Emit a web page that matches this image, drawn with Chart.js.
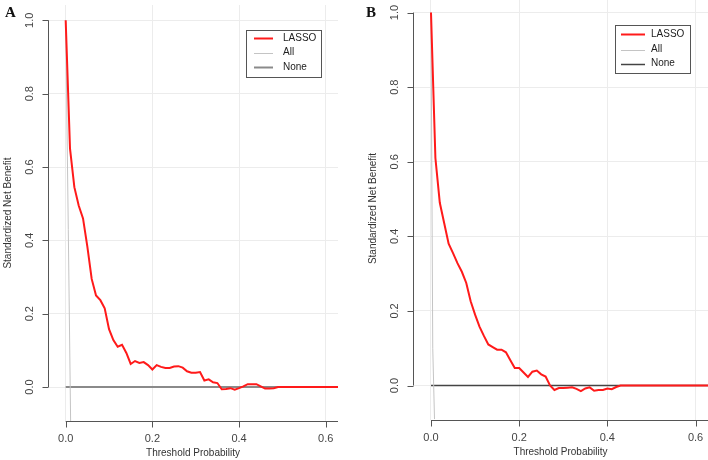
<!DOCTYPE html>
<html>
<head>
<meta charset="utf-8">
<script src="https://cdn.jsdelivr.net/npm/chart.js@4.4.1/dist/chart.umd.min.js"></script>
<style>
    html, body { margin: 0; padding: 0; background: #fff; }
    #wrap { position: relative; width: 708px; height: 460px; overflow: hidden; }
    canvas { position: absolute; }
    #chartA { left: 0; top: 0; }
    #chartB { left: 354px; top: -3px; }
</style>
</head>
<body>
<div id="wrap">
    <canvas id="chartA" width="354" height="460"></canvas>
    <canvas id="chartB" width="354" height="463"></canvas>
</div>
<script>
// threshold probabilities (0.00 .. 0.63)
const thresholds = [0.00, 0.01, 0.02, 0.03, 0.04, 0.05, 0.06, 0.07, 0.08, 0.09,
    0.10, 0.11, 0.12, 0.13, 0.14, 0.15, 0.16, 0.17, 0.18, 0.19,
    0.20, 0.21, 0.22, 0.23, 0.24, 0.25, 0.26, 0.27, 0.28, 0.29,
    0.30, 0.31, 0.32, 0.33, 0.34, 0.35, 0.36, 0.37, 0.38, 0.39,
    0.40, 0.41, 0.42, 0.43, 0.44, 0.45, 0.46, 0.47, 0.48, 0.49,
    0.50, 0.51, 0.52, 0.53, 0.54, 0.55, 0.56, 0.57, 0.58, 0.59,
    0.60, 0.61, 0.62, 0.63];

const lassoA = [1.000, 0.650, 0.545, 0.495, 0.460, 0.383, 0.295, 0.250, 0.237, 0.215,
    0.158, 0.128, 0.110, 0.115, 0.093, 0.063, 0.071, 0.066, 0.068, 0.060,
    0.048, 0.060, 0.055, 0.052, 0.052, 0.056, 0.057, 0.053, 0.043, 0.039,
    0.039, 0.041, 0.018, 0.021, 0.013, 0.011, -0.006, -0.005, -0.003, -0.007,
    -0.003, 0.002, 0.008, 0.008, 0.008, 0.002, -0.004, -0.004, -0.003, 0.000,
    0, 0, 0, 0, 0, 0, 0, 0, 0, 0,
    0, 0, 0, 0];

const lassoB = [1.000, 0.610, 0.490, 0.435, 0.380, 0.355, 0.328, 0.305, 0.275, 0.226,
    0.190, 0.158, 0.133, 0.110, 0.103, 0.096, 0.096, 0.089, 0.068, 0.047,
    0.047, 0.035, 0.023, 0.037, 0.040, 0.030, 0.024, 0.000, -0.012, -0.007,
    -0.007, -0.006, -0.005, -0.009, -0.015, -0.008, -0.005, -0.014, -0.012, -0.012,
    -0.008, -0.010, -0.004, 0.000, 0, 0, 0, 0, 0, 0,
    0, 0, 0, 0, 0, 0, 0, 0, 0, 0,
    0, 0, 0, 0];

// "treat all" curves, they drop out of the plot almost at once
const allThreshA = [0, 0.006, 0.012];
const allA = [1.0, 0.43, -0.15];
const allThreshB = [0, 0.004, 0.008];
const allB = [1.0, 0.10, -0.09];

// "treat none"
const noneThresh = [0, 0.63];
const noneVals = [0, 0];

const xTicks = [0, 0.2, 0.4, 0.6];
const yTicks = [0, 0.2, 0.4, 0.6, 0.8, 1.0];
const xLabels = ['0.0', '0.2', '0.4', '0.6'];
const yLabels = ['0.0', '0.2', '0.4', '0.6', '0.8', '1.0'];

const FONT = '"Liberation Sans", Arial, sans-serif';

const toPoints = (xs, ys) => xs.map((x, i) => ({ x, y: ys[i] }));

// R-style axes, titles, panel letter and legend
const rDecor = {
    id: 'rDecor',
    afterDraw(chart) {
        const { ctx, chartArea: area, scales: { x, y } } = chart;
        const p = chart.options.plugins.rDecor;

        ctx.save();
        ctx.strokeStyle = '#555';
        ctx.lineWidth = 1;

        // y axis
        const yx = Math.round(area.left) + 0.5;
        ctx.beginPath();
        ctx.moveTo(yx, y.getPixelForValue(yTicks[0]));
        ctx.lineTo(yx, y.getPixelForValue(yTicks[yTicks.length - 1]));
        yTicks.forEach(v => {
            const py = Math.round(y.getPixelForValue(v)) + 0.5;
            ctx.moveTo(yx, py);
            ctx.lineTo(yx - 6, py);
        });
        ctx.stroke();

        // x axis
        const xy = Math.round(area.bottom) + 0.5;
        ctx.beginPath();
        ctx.moveTo(x.getPixelForValue(xTicks[0]), xy);
        ctx.lineTo(area.right, xy);
        xTicks.forEach(v => {
            const px = Math.round(x.getPixelForValue(v)) + 0.5;
            ctx.moveTo(px, xy);
            ctx.lineTo(px, xy + 6);
        });
        ctx.stroke();

        ctx.fillStyle = '#444';
        ctx.font = `11px ${FONT}`;
        ctx.textAlign = 'center';
        ctx.textBaseline = 'middle';

        xTicks.forEach((v, i) => {
            ctx.fillText(xLabels[i], x.getPixelForValue(v), area.bottom + 18);
        });
        yTicks.forEach((v, i) => {
            ctx.save();
            ctx.translate(area.left - 18, y.getPixelForValue(v));
            ctx.rotate(-Math.PI / 2);
            ctx.fillText(yLabels[i], 0, 0);
            ctx.restore();
        });

        // titles
        ctx.fillStyle = '#333';
        ctx.font = `10px ${FONT}`;
        ctx.fillText('Threshold Probability', (area.left + area.right) / 2, area.bottom + 32);
        ctx.save();
        ctx.translate(area.left - 40, (area.top + area.bottom) / 2);
        ctx.rotate(-Math.PI / 2);
        ctx.fillText('Standardized Net Benefit', 0, 0);
        ctx.restore();

        // panel letter
        ctx.fillStyle = '#111';
        ctx.font = `bold 15px "Liberation Serif", "Times New Roman", serif`;
        ctx.textAlign = 'left';
        ctx.textBaseline = 'alphabetic';
        ctx.fillText(p.letter, p.letterX, p.letterY);

        // legend
        const lg = p.legend;
        ctx.fillStyle = '#fff';
        ctx.fillRect(lg.x, lg.y, lg.w, lg.h);
        ctx.strokeStyle = '#555';
        ctx.lineWidth = 1;
        ctx.strokeRect(Math.round(lg.x) + 0.5, Math.round(lg.y) + 0.5, Math.round(lg.w), Math.round(lg.h));
        ctx.font = `10px ${FONT}`;
        ctx.textBaseline = 'middle';
        chart.data.datasets.forEach((ds, i) => {
            const ry = Math.round(lg.rows[i]) + 0.5;
            ctx.strokeStyle = ds.borderColor;
            ctx.lineWidth = ds.borderWidth;
            ctx.beginPath();
            ctx.moveTo(lg.x + lg.line0, ry);
            ctx.lineTo(lg.x + lg.line1, ry);
            ctx.stroke();
            ctx.fillStyle = '#222';
            ctx.fillText(ds.label, lg.x + lg.text, lg.rows[i]);
        });

        ctx.restore();
    }
};

function buildPanel(id, lasso, allX, allY, noneColor, noneWidth, padding, decor) {
    const ctx = document.getElementById(id).getContext('2d');
    new Chart(ctx, {
        type: 'line',
        data: {
            datasets: [{
                label: 'LASSO',
                data: toPoints(thresholds, lasso),
                borderColor: '#ff1a1a',
                borderWidth: 2,
                pointRadius: 0,
                tension: 0
            }, {
                label: 'All',
                data: toPoints(allX, allY),
                borderColor: '#c4c4c4',
                borderWidth: 1,
                pointRadius: 0
            }, {
                label: 'None',
                data: toPoints(noneThresh, noneVals),
                borderColor: noneColor,
                borderWidth: noneWidth,
                pointRadius: 0
            }]
        },
        options: {
            responsive: false,
            animation: false,
            layout: { padding },
            plugins: {
                legend: { display: false },
                tooltip: { enabled: false },
                rDecor: decor
            },
            scales: {
                x: {
                    type: 'linear',
                    min: -0.0408,
                    max: 0.6283,
                    afterBuildTicks: s => { s.ticks = xTicks.map(v => ({ value: v })); },
                    afterFit: s => { s.height = 0; },
                    ticks: { display: false },
                    grid: { color: '#ececec', lineWidth: 1, drawTicks: false },
                    border: { display: false }
                },
                y: {
                    min: -0.0925,
                    max: 1.0418,
                    afterBuildTicks: s => { s.ticks = yTicks.map(v => ({ value: v })); },
                    afterFit: s => { s.width = 0; },
                    ticks: { display: false },
                    grid: { color: '#ececec', lineWidth: 1, drawTicks: false },
                    border: { display: false }
                }
            }
        },
        plugins: [rDecor]
    });
}

buildPanel('chartA', lassoA, allThreshA, allA, '#8a8a8a', 2,
    { left: 48, top: 5, right: 16, bottom: 39 },
    {
        letter: 'A', letterX: 5, letterY: 17,
        legend: { x: 246, y: 30, w: 75, h: 47, line0: 8, line1: 27, text: 37, rows: [38, 52.5, 67] }
    });

buildPanel('chartB', lassoB, allThreshB, allB, '#444', 1.5,
    { left: 59, top: 0, right: 0, bottom: 40 },
    {
        letter: 'B', letterX: 12, letterY: 20,
        legend: { x: 261, y: 28, w: 75, h: 48, line0: 6, line1: 30, text: 36, rows: [37, 52.5, 66.5] }
    });
</script>
</body>
</html>
